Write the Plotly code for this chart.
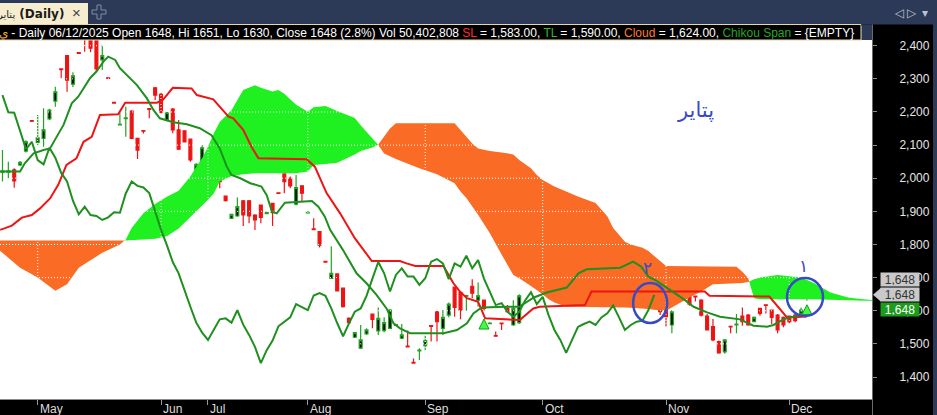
import plotly.graph_objects as go

# ---------------- data ----------------
# daily bars (bar index 0 .. 137)
opens = [2018,2018,2025,2040,2082,2174,2108,2120,2179,2233,2330,2370,2284,2379,2450,2440,2430,2357,2303,2229,
         2161,2180,2203,2120,2144,2210,2273,2253,2176,2209,2146,2143,2118,2025,2040,2032,2013,2067,1946,1879,
         1886,1932,1932,1889,1919,1893,1924,1956,2013,2000,1922,1977,1895,1847,1839,1749,1698,1711,1668,1577,
         1520,1487,1530,1590,1539,1540,1547,1556,1517,1493,1444,1479,1495,1555,1597,1547,1587,1671,1655,1644,
         1674,1632,1632,1561,1525,1563,1607,1557,1564,1694,1749,1768,1683,1654,1758,1773,1653,1738,1673,1713,
         1754,1788,1697,1725,1763,1727,1703,1778,1699,1659,1643,1648,1632,1602,1557,1628,1645,1663,1644,1632,
         1584,1552,1507,1476,1553,1557,1584,1587,1567,1607,1618,1602,1587,1580,1584,1587,1592,1648]
highs = [2085,2050,2030,2052,2115,2176,2191,2211,2210,2276,2331,2372,2320,2380,2460,2455,2440,2402,2304,2230,
         2200,2216,2205,2122,2145,2211,2275,2258,2200,2212,2176,2145,2120,2045,2100,2066,2030,2070,1948,1893,
         1942,1934,1934,1891,1921,1899,1926,1957,2015,2005,2010,1979,1900,1879,1841,1750,1795,1713,1670,1580,
         1536,1557,1547,1592,1610,1580,1605,1560,1560,1540,1456,1487,1525,1556,1599,1602,1625,1673,1657,1648,
         1695,1685,1634,1565,1537,1564,1617,1632,1650,1700,1750,1775,1685,1712,1760,1775,1706,1740,1740,1760,
         1793,1790,1698,1746,1773,1790,1732,1780,1700,1660,1648,1650,1634,1604,1602,1640,1693,1668,1645,1635,
         1590,1575,1510,1515,1554,1590,1610,1590,1583,1609,1619,1604,1590,1583,1586,1590,1610,1651]
lows = [1990,2000,1971,2036,2078,2170,2100,2095,2175,2216,2302,2261,2275,2376,2382,2380,2320,2327,2300,2226,
        2160,2125,2118,2058,2135,2181,2236,2195,2172,2136,2085,2108,2050,2020,2030,2028,2000,1970,1930,1877,
        1884,1856,1864,1844,1864,1891,1856,1953,1955,1970,1918,1929,1893,1844,1791,1746,1696,1658,1610,1562,
        1518,1485,1527,1547,1527,1535,1545,1554,1515,1490,1441,1451,1481,1507,1507,1527,1580,1582,1574,1600,
        1638,1612,1600,1559,1522,1542,1595,1555,1560,1690,1703,1703,1655,1650,1725,1700,1650,1675,1670,1705,
        1730,1713,1694,1722,1723,1722,1700,1750,1696,1643,1612,1618,1587,1552,1532,1625,1640,1615,1628,1583,
        1540,1508,1470,1470,1532,1532,1555,1555,1565,1585,1592,1560,1532,1550,1560,1565,1585,1630]
closes = [2022,2022,1992,2048,2110,2172,2122,2146,2206,2261,2328,2296,2309,2377,2425,2393,2330,2370,2301,2227,
          2163,2182,2120,2085,2142,2208,2251,2199,2198,2146,2088,2110,2055,2042,2092,2062,2016,1990,1932,1891,
          1914,1889,1886,1874,1882,1897,1896,1954,1990,1977,1972,1955,1898,1845,1798,1747,1713,1660,1612,1564,
          1534,1512,1542,1574,1577,1564,1602,1558,1527,1491,1442,1481,1510,1553,1567,1580,1620,1610,1602,1646,
          1653,1645,1607,1563,1523,1561,1597,1607,1645,1697,1747,1713,1658,1708,1728,1703,1703,1678,1698,1748,
          1756,1743,1695,1743,1733,1766,1728,1753,1697,1657,1617,1623,1597,1582,1597,1631,1656,1620,1642,1587,
          1542,1512,1473,1512,1551,1560,1567,1557,1580,1592,1616,1580,1542,1557,1567,1570,1602,1648]
CHIKOU_SHIFT = 26

# Tenkan-sen (TL) and Kijun-sen (SL): (bar index, price)
tenkan_idx = [-0.4, 3, 3.8, 5.3, 7, 8.1, 8.9, 10.4, 11.8, 12.9, 13.8, 14.9, 16, 17.2, 18, 19.2, 20, 21.2, 22.9,
              24.6, 25.7, 26.8, 29.1, 31.4, 33.6, 35.6, 37, 38.2, 39, 40.5, 42.2, 44.1, 45, 45.9, 46.7, 48.1,
              52.7, 53.8, 54.9, 55.8, 58, 60.3, 62, 63.7, 65.4, 66.6, 67.7, 69.4, 75.1, 77.4, 79.1, 80.2, 81.6,
              85.9, 88, 90.5, 92.7, 96.1, 98.1, 99.5, 105.2, 107.4, 108.8, 110, 111.4, 113.1, 114.8, 116, 117.7,
              120, 122.2, 125.6, 127.9, 130.2, 131.3, 133, 134.2, 137]
tenkan_val = [2020, 2020, 2045, 2075, 2085, 2090, 2115, 2161, 2226, 2246, 2271, 2302, 2322, 2352, 2367, 2357,
              2332, 2312, 2281, 2241, 2206, 2181, 2169, 2163, 2151, 2130, 2090, 2035, 2010, 2000, 1985, 1975,
              1949, 1899, 1894, 1926, 1931, 1914, 1884, 1844, 1783, 1713, 1683, 1648, 1607, 1562, 1547, 1532,
              1532, 1542, 1562, 1592, 1610, 1612, 1612, 1640, 1655, 1670, 1713, 1725, 1730, 1748, 1733, 1703,
              1690, 1670, 1650, 1635, 1612, 1595, 1582, 1574, 1555, 1552, 1557, 1574, 1580, 1590]
kijun_idx = [-0.4, 1.6, 3.3, 5, 6.4, 8.1, 9.5, 10.9, 12.6, 13.8, 15.2, 16.6, 19.7, 20.9, 26.3, 27.3, 29, 32.2,
             33.1, 35.9, 38.5, 39.3, 41, 42.4, 43.6, 51.8, 53.2, 55.2, 57.5, 60, 62.9, 67.7, 68.8, 70.3, 75.1,
             76.8, 77.9, 79.1, 81, 82.2, 88.1, 90.4, 91.5, 99.2, 100.3, 119.6, 120.4, 130.6, 133.6, 137]
kijun_val = [1844, 1857, 1881, 1889, 1909, 1939, 1980, 2040, 2060, 2110, 2125, 2191, 2193, 2228, 2228, 2236,
             2273, 2271, 2251, 2238, 2186, 2181, 2146, 2095, 2060, 2057, 2035, 1955, 1894, 1819, 1750, 1750,
             1743, 1735, 1735, 1683, 1658, 1638, 1627, 1577, 1572, 1607, 1612, 1617, 1658, 1658, 1645, 1643,
             1580, 1583]

# Kumo (cloud) spans, already displaced forward: (bar index, span A, span B)
span_idx = [-1, 3, 6, 9, 11, 13, 17, 20, 21, 22, 24, 26, 28, 30, 31, 32, 33, 34, 35, 36, 37, 39, 41, 43, 44,
            46, 47, 48, 50, 52, 53, 55, 57, 60, 61, 63, 64, 65, 66, 67, 71, 74, 77, 78, 79, 80, 81, 83, 84, 85,
            87, 88, 90, 91, 92, 93, 94, 96, 98, 101, 103, 104, 105, 106, 107, 109, 110, 112, 113, 117, 119, 121,
            125, 126, 127, 128, 129, 132, 136, 138, 141, 144, 147, 150]
span_a = [1790, 1730, 1700, 1660, 1680, 1730, 1775, 1800, 1815, 1850, 1894, 1922, 1944, 1962, 1985, 2005, 2035,
          2060, 2095, 2136, 2170, 2205, 2266, 2281, 2273, 2262, 2266, 2255, 2222, 2201, 2214, 2218, 2203, 2182,
          2160, 2120, 2100, 2075, 2066, 2058, 2030, 2012, 1985, 1960, 1940, 1915, 1890, 1834, 1800, 1770, 1708,
          1698, 1675, 1663, 1650, 1635, 1625, 1612, 1612, 1612, 1612, 1612, 1612, 1610, 1609, 1607, 1605, 1601,
          1600, 1640, 1658, 1680, 1682, 1684, 1687, 1695, 1700, 1708, 1700, 1685, 1655, 1640, 1634, 1632]
span_b = [1812, 1812, 1812, 1812, 1812, 1812, 1812, 1812, 1812, 1813, 1815, 1817, 1825, 1848, 1868, 1885, 1900,
          1918, 1935, 1955, 1990, 2007, 2012, 2015, 2015, 2015, 2015, 2015, 2015, 2020, 2040, 2043, 2047, 2072,
          2082, 2093, 2101, 2125, 2150, 2166, 2166, 2166, 2166, 2145, 2125, 2105, 2090, 2082, 2080, 2078, 2072,
          2055, 2030, 2010, 1995, 1985, 1975, 1960, 1945, 1925, 1885, 1850, 1828, 1808, 1800, 1790, 1780, 1750,
          1735, 1733, 1733, 1733, 1733, 1718, 1698, 1638, 1635, 1635, 1635, 1635, 1633, 1632, 1630, 1630]

# buy-signal arrows (tip price)
signal_idx = [82, 137]
signal_val = [1575, 1618]

# axes
month_idx = [6, 27, 35, 52, 72, 92, 113, 134]
month_lbl = ["May", "Jun", "Jul", "Aug", "Sep", "Oct", "Nov", "Dec"]
price_ticks = [1400, 1500, 1600, 1700, 1800, 1900, 2000, 2100, 2200, 2300, 2400]
price_lbl = ["1,400", "1,500", "1,600", "1,700", "1,800", "1,900", "2,000", "2,100", "2,200", "2,300", "2,400"]
last_price = 1648
last_lbl = "1,648"

X_RANGE = [-0.42, 148.08]
Y_RANGE = [1333.6, 2459.5]

GREEN_CLOUD = "#1ff01f"
ORANGE_CLOUD = "#fa6b25"
RED = "#ee1414"
GREEN_LINE = "#1f8f1f"
BLUE_INK = "#3a4ac6"
NAVY = "#2c3a57"

fig = go.Figure()

# ---------------- cloud ----------------
def cloud_regions(xs, a, b):
    regions = []
    cur = [(xs[0], a[0], b[0])]
    for k in range(len(xs) - 1):
        d0 = a[k] - b[k]
        d1 = a[k + 1] - b[k + 1]
        if d0 * d1 < 0:
            t = d0 / (d0 - d1)
            xc = xs[k] + t * (xs[k + 1] - xs[k])
            yc = a[k] + t * (a[k + 1] - a[k])
            cur.append((xc, yc, yc))
            regions.append(cur)
            cur = [(xc, yc, yc)]
        cur.append((xs[k + 1], a[k + 1], b[k + 1]))
    regions.append(cur)
    return regions

for reg in cloud_regions(span_idx, span_a, span_b):
    diff = sum(p[1] - p[2] for p in reg)
    col = GREEN_CLOUD if diff > 0 else ORANGE_CLOUD
    px = [p[0] for p in reg] + [p[0] for p in reversed(reg)]
    py = [p[1] for p in reg] + [p[2] for p in reversed(reg)]
    fig.add_trace(go.Scatter(x=px, y=py, mode="lines", fill="toself", fillcolor=col,
                             line=dict(width=0, color=col), hoverinfo="skip"))

# dotted white grid (only visible over the cloud)
gx, gy = [], []
for v in price_ticks:
    gx += [X_RANGE[0], X_RANGE[1], None]
    gy += [v, v, None]
for m in month_idx:
    gx += [m, m, None]
    gy += [Y_RANGE[0], Y_RANGE[1], None]
fig.add_trace(go.Scatter(x=gx, y=gy, mode="lines", line=dict(color="white", width=1, dash="1px,2px"),
                         hoverinfo="skip"))

# ---------------- lines ----------------
fig.add_trace(go.Scatter(x=kijun_idx, y=kijun_val, mode="lines", line=dict(color=RED, width=2)))
fig.add_trace(go.Scatter(x=tenkan_idx, y=tenkan_val, mode="lines", line=dict(color=GREEN_LINE, width=2)))

# ---------------- candles ----------------
n = len(closes)
idx = list(range(n))
fig.add_trace(go.Candlestick(
    x=idx[:-1], open=opens[:-1], high=highs[:-1], low=lows[:-1], close=closes[:-1],
    increasing=dict(line=dict(color="#22a322", width=1.2), fillcolor="black"),
    decreasing=dict(line=dict(color=RED, width=1.2), fillcolor=RED),
    whiskerwidth=0, hoverinfo="skip"))
fig.add_trace(go.Candlestick(
    x=idx[-1:], open=opens[-1:], high=highs[-1:], low=lows[-1:], close=closes[-1:],
    increasing=dict(line=dict(color="#c4782a", width=1.2), fillcolor="#c4782a"),
    decreasing=dict(line=dict(color="#c4782a", width=1.2), fillcolor="#c4782a"),
    whiskerwidth=0, hoverinfo="skip"))

# Chikou span: close shifted back
chik_x = [i - CHIKOU_SHIFT for i in idx if i >= CHIKOU_SHIFT]
chik_y = [closes[i] for i in idx if i >= CHIKOU_SHIFT]
fig.add_trace(go.Scatter(x=chik_x, y=chik_y, mode="lines", line=dict(color=GREEN_LINE, width=2)))

fig.add_trace(go.Scatter(x=signal_idx, y=signal_val, mode="markers",
                         marker=dict(symbol="arrow-up", size=10, color="#3dff3d",
                                     line=dict(color="#1a9a1a", width=1))))

# ---------------- layout ----------------
W, H = 937, 415
ML, MR, MT, MB = 0, 65, 26, 16
PW, PH = W - ML - MR, H - MT - MB

def px_x(X):
    return (X - ML) / PW

def px_y(Y):
    return (H - MB - Y) / PH

shapes = []
# top navy bar
shapes.append(dict(type="rect", xref="paper", yref="paper", x0=px_x(-2), x1=px_x(W + 2), y0=px_y(24.5), y1=px_y(-2),
                   fillcolor=NAVY, line=dict(width=0), layer="above"))
# tab
shapes.append(dict(type="rect", xref="paper", yref="paper", x0=px_x(-2), x1=px_x(88), y0=px_y(24.5), y1=px_y(3),
                   fillcolor="#f6eccf", line=dict(width=0), layer="above"))
# plus icon
shapes.append(dict(type="path", xref="paper", yref="paper", xsizemode="pixel", ysizemode="pixel",
                   xanchor=px_x(99), yanchor=px_y(12),
                   path="M -2,-7 L 2,-7 L 2,-2 L 7,-2 L 7,2 L 2,2 L 2,7 L -2,7 L -2,2 L -7,2 L -7,-2 L -2,-2 Z",
                   line=dict(color="#7f8ca6", width=1), fillcolor="rgba(0,0,0,0)", layer="above"))
# info bar
shapes.append(dict(type="rect", xref="paper", yref="paper", x0=px_x(-2), x1=px_x(861), y0=px_y(40), y1=px_y(24.5),
                   fillcolor="black", line=dict(color="#e6d6a8", width=1), layer="above"))
shapes.append(dict(type="rect", xref="paper", yref="paper", x0=px_x(861.5), x1=px_x(872), y0=px_y(40), y1=px_y(24.5),
                   fillcolor=NAVY, line=dict(width=0), layer="above"))
# right navy border
shapes.append(dict(type="rect", xref="paper", yref="paper", x0=px_x(933), x1=px_x(W + 2), y0=px_y(H + 2), y1=px_y(0),
                   fillcolor=NAVY, line=dict(width=0), layer="above"))
# axis separator
shapes.append(dict(type="line", xref="paper", yref="paper", x0=px_x(872.5), x1=px_x(872.5), y0=px_y(H), y1=px_y(24.5),
                   line=dict(color="#6a6a6a", width=1), layer="above"))
# price pointer
shapes.append(dict(type="path", xref="paper", yref="y", xsizemode="pixel", ysizemode="pixel",
                   xanchor=1.0, yanchor=last_price, path="M 1,0 L 9,7 L 9,-7 Z",
                   fillcolor="#c9c9c9", line=dict(width=0), layer="above"))
# hand-drawn circles
circle_1 = (136.67, 1641.5)
circle_2 = (110.3, 1623.4)
for (cx, cy), (rx, ry) in [(circle_1, (18, 19)), (circle_2, (17, 20))]:
    shapes.append(dict(type="circle", xref="x", yref="y", xsizemode="pixel", ysizemode="pixel",
                       xanchor=cx, yanchor=cy, x0=-rx, x1=rx, y0=-ry, y1=ry,
                       line=dict(color=BLUE_INK, width=2.5), layer="above"))

ann = []
info = ("<span style='color:#f0b020'>ي</span> - Daily 06/12/2025 Open 1648, Hi 1651, Lo 1630, Close 1648 (2.8%) "
        "Vol 50,402,808 <span style='color:#ff2b2b'>SL</span> = 1,583.00, "
        "<span style='color:#2fbd2f'>TL</span> = 1,590.00, <span style='color:#ff7a33'>Cloud</span> = 1,624.00, "
        "<span style='color:#25a825'>Chikou Span</span> = {EMPTY}")
ann.append(dict(text=info, xref="paper", yref="paper", x=px_x(-3), y=px_y(32.5), xanchor="left", yanchor="middle",
                showarrow=False, font=dict(color="white", size=12, family="Arial, Liberation Sans")))
ann.append(dict(text="<span style='font-size:10px'>پتایر-ب</span><b> (Daily)</b>", xref="paper", yref="paper",
                x=px_x(66), y=px_y(13.5), xanchor="right", yanchor="middle", showarrow=False,
                font=dict(color="#1a1a1a", size=12, family="DejaVu Sans, Arial")))
ann.append(dict(text="×", xref="paper", yref="paper", x=px_x(76), y=px_y(13), xanchor="center", yanchor="middle",
                showarrow=False, font=dict(color="#444", size=15, family="Arial, Liberation Sans")))
for t, X in [("◁", 899), ("▷", 912), ("▾", 925)]:
    ann.append(dict(text=t, xref="paper", yref="paper", x=px_x(X), y=px_y(12.5), xanchor="center",
                    yanchor="middle", showarrow=False, font=dict(color="#b9c3d6", size=12, family="DejaVu Sans")))
for m, lbl in zip(month_idx, month_lbl):
    ann.append(dict(text=lbl, xref="x", yref="paper", x=m, y=0, xanchor="left", yanchor="top", xshift=0, yshift=-1,
                    showarrow=False, font=dict(color="#dedede", size=12, family="Arial, Liberation Sans")))
# last price boxes
for shift, bg, fg in [(15, "#c9c9c9", "#333333"), (0, "#c9c9c9", "#333333"), (-15, "#1f9a1f", "white")]:
    ann.append(dict(text=last_lbl, xref="paper", yref="y", x=px_x(880), y=last_price, yshift=shift,
                    xanchor="left", yanchor="middle", showarrow=False, bgcolor=bg, width=36, height=11,
                    borderpad=1, font=dict(color=fg, size=12, family="Arial, Liberation Sans")))
# hand-written notes
ann.append(dict(text="پتایر", xref="paper", yref="paper", x=px_x(695), y=px_y(110), xanchor="center",
                yanchor="middle", showarrow=False, font=dict(color=BLUE_INK, size=21, family="DejaVu Sans")))
ann.append(dict(text="۱", xref="paper", yref="paper", x=px_x(803), y=px_y(266), xanchor="center",
                yanchor="middle", showarrow=False, font=dict(color=BLUE_INK, size=17, family="DejaVu Sans")))
ann.append(dict(text="۲", xref="paper", yref="paper", x=px_x(647), y=px_y(268), xanchor="center",
                yanchor="middle", showarrow=False, font=dict(color=BLUE_INK, size=17, family="DejaVu Sans")))

fig.update_layout(
    width=W, height=H, margin=dict(l=ML, r=MR, t=MT, b=MB),
    paper_bgcolor="black", plot_bgcolor="white", showlegend=False,
    font=dict(family="Arial, Liberation Sans", size=12),
    shapes=shapes, annotations=ann,
    xaxis=dict(range=X_RANGE, tickvals=month_idx, ticks="outside", ticklen=5, tickcolor="#9a9a9a",
               showticklabels=False, showgrid=False, zeroline=False, showline=True, linecolor="#8a8a8a",
               rangeslider=dict(visible=False), fixedrange=True, automargin=False),
    yaxis=dict(range=Y_RANGE, side="right", tickvals=price_ticks, ticktext=price_lbl, ticks="outside",
               ticklen=4, tickcolor="#8a8a8a", tickfont=dict(color="#e6e6e6", size=12),
               ticklabelstandoff=20, showgrid=False, zeroline=False, showline=False, fixedrange=True,
               automargin=False),
)

fig.write_html("out.html", config={"displayModeBar": False},
               post_script="document.body.style.margin='0';document.body.style.overflow='hidden';")
